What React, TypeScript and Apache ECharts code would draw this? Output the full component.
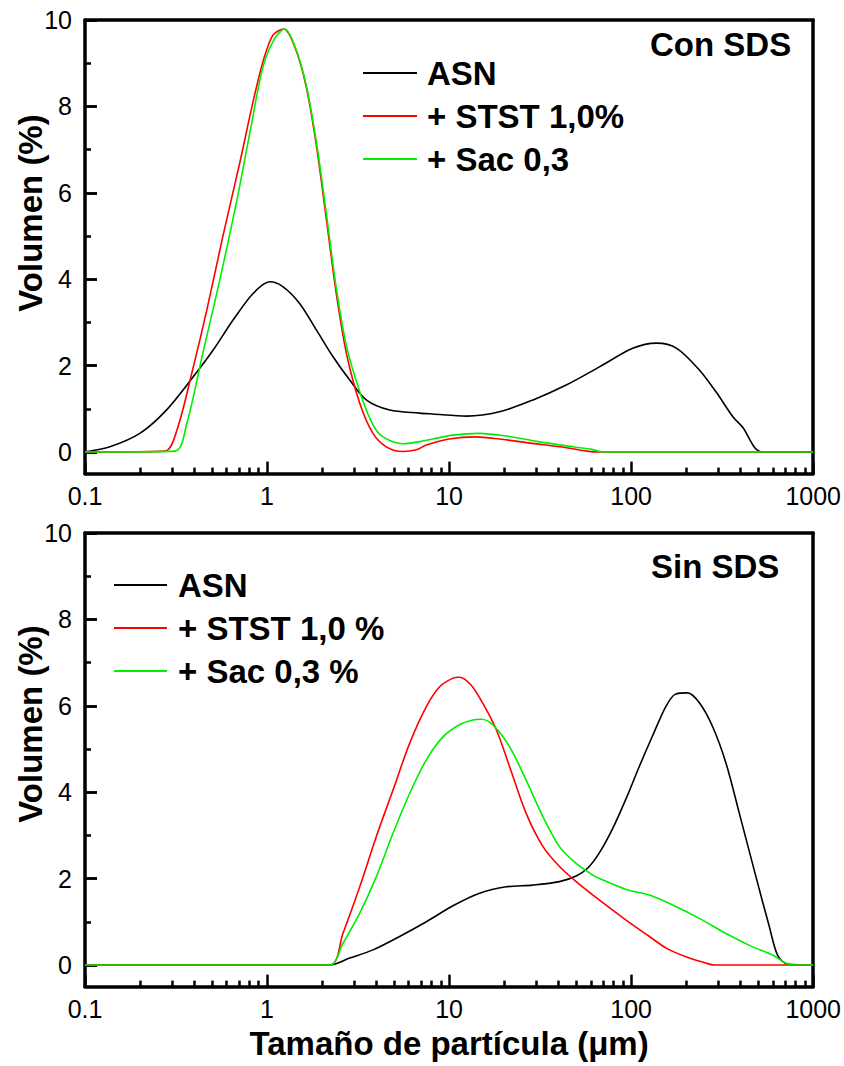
import React, { useEffect, useRef } from "react";
import * as echarts from "echarts";

// ---------- Data (x in µm, y in Volumen %) ----------
const X_TICKS = [0.1, 1, 10, 100, 1000];
const Y_TICKS = [0, 2, 4, 6, 8, 10];
const Y_MINOR = [1, 3, 5, 7, 9];

const NAMES_CON = ["ASN", "+ STST 1,0%", "+ Sac 0,3"];
const NAMES_SIN = ["ASN", "+ STST 1,0 %", "+ Sac 0,3 %"];
const PANEL_LABELS = ["Con SDS", "Sin SDS"];
const X_NAME = "Tamaño de partícula (μm)";
const Y_NAME = "Volumen (%)";

// Con SDS
const conASN: number[][] = [
  [0.1, 0], [0.137, 0.12], [0.2, 0.43], [0.28, 0.97], [0.393, 1.74], [0.506, 2.36], [0.652, 3.06],
  [0.838, 3.67], [1.035, 3.94], [1.22, 3.83], [1.51, 3.44], [1.87, 2.82], [2.3, 2.21], [2.84, 1.67],
  [3.52, 1.2], [4.72, 0.97], [6.89, 0.9], [8.1, 0.88], [12.5, 0.83], [18.9, 0.93], [28.7, 1.2],
  [44, 1.55], [67, 1.97], [102, 2.4], [138, 2.52], [178, 2.4], [237, 1.9], [295, 1.37], [363, 0.81],
  [412, 0.56], [479, 0.09], [531, 0], [1000, 0],
];
const conSTST: number[][] = [
  [0.1, 0], [0.275, 0.02], [0.32, 0.51], [0.39, 1.9], [0.467, 3.29], [0.571, 4.98], [0.708, 6.69],
  [0.835, 8.08], [0.949, 9.03], [1.077, 9.65], [1.236, 9.79], [1.42, 9.38], [1.64, 8.46], [1.87, 7.07],
  [2.12, 5.37], [2.4, 3.67], [2.73, 2.28], [3.23, 1.13], [3.82, 0.43], [4.52, 0.12], [5.58, 0.01],
  [6.61, 0.05], [7.5, 0.16], [10, 0.3], [14, 0.35], [18.9, 0.3], [28.7, 0.2], [44, 0.1], [57, 0.02],
  [67, 0], [1000, 0],
];
const conSac: number[][] = [
  [0.1, 0], [0.312, 0.02], [0.363, 0.67], [0.444, 2.29], [0.55, 3.98], [0.683, 5.83], [0.804, 7.38],
  [0.949, 8.91], [1.104, 9.58], [1.25, 9.79], [1.42, 9.4], [1.64, 8.5], [1.87, 7.15], [2.12, 5.5],
  [2.4, 3.8], [2.73, 2.45], [3.3, 1.28], [3.82, 0.63], [4.34, 0.35], [5.58, 0.19], [6.89, 0.24],
  [8.1, 0.3], [10.5, 0.39], [14.7, 0.43], [20.6, 0.37], [31, 0.24], [48, 0.12], [61, 0.06], [69, 0],
  [1000, 0],
];

// Sin SDS
const sinASN: number[][] = [
  [0.1, 0], [2.21, 0], [2.84, 0.16], [3.82, 0.35], [5.35, 0.66], [7.5, 1.0], [10.5, 1.37], [14.7, 1.66],
  [20.6, 1.81], [28.8, 1.85], [40.4, 1.93], [49.9, 2.06], [58, 2.25], [67, 2.6], [79, 3.15], [93.8, 3.85],
  [111, 4.6], [131, 5.3], [155, 5.98], [175, 6.27], [204, 6.3], [237, 6.07], [280, 5.52], [332, 4.67],
  [393, 3.51], [485, 2.04], [574, 0.89], [637, 0.23], [723, 0.02], [1000, 0],
];
const sinSTST: number[][] = [
  [0.1, 0], [2.21, 0], [2.61, 0.73], [3.23, 1.81], [3.98, 2.97], [4.92, 4.05], [6.07, 5.13], [7.5, 5.98],
  [8.87, 6.44], [10.5, 6.64], [11.4, 6.66], [13.2, 6.48], [15.3, 6.06], [18.2, 5.44], [21.5, 4.59],
  [26.5, 3.51], [32.8, 2.74], [40.4, 2.28], [49.9, 1.93], [67, 1.5], [93.8, 1.04], [126, 0.66],
  [156, 0.39], [200, 0.19], [269, 0.02], [290, 0], [1000, 0],
];
const sinSac: number[][] = [
  [0.1, 0], [2.21, 0], [2.61, 0.5], [3.23, 1.2], [3.98, 2.04], [4.92, 3.05], [6.07, 3.97], [7.5, 4.75],
  [9.25, 5.28], [11.4, 5.56], [13.5, 5.67], [15.0, 5.69], [17.4, 5.56], [21.5, 5.05], [26.5, 4.28],
  [32.8, 3.43], [40.4, 2.74], [49.9, 2.35], [61.6, 2.08], [67, 2.0], [93.8, 1.75], [126, 1.62],
  [169, 1.39], [237, 1.08], [332, 0.73], [465, 0.42], [598, 0.23], [708, 0.04], [771, 0], [1000, 0],
];

const COLORS = ["#000000", "#ff0000", "#00ee00"];
const FONT = "'Liberation Sans', Arial, Helvetica, sans-serif";

export default function App() {
  const ref = useRef<HTMLDivElement>(null);

  useEffect(() => {
    if (!ref.current) return;
    const chart = echarts.init(ref.current, undefined, { renderer: "svg" });

    const grids = [
      { left: 85, top: 20, width: 729, height: 453.6 },
      { left: 85, top: 533, width: 729, height: 453.6 },
    ];
    const Y_PER_GRID = 5;

    const tl = () => ({ color: "#000", width: 2.5 });
    const fl = () => ({ color: "#000", width: 3.5 });
    const xAxes: any[] = [];
    const yAxes: any[] = [];
    grids.forEach((_, gi) => {
      const auxIndex = gi * Y_PER_GRID + 4;
      // bottom axis: frame line, major + minor ticks, labels (placed on the zero of the auxiliary y axis = grid bottom)
      xAxes.push({
        type: "log",
        logBase: 10,
        gridIndex: gi,
        min: 0.1,
        max: 1000,
        position: "bottom",
        axisLine: { show: true, onZero: true, onZeroAxisIndex: auxIndex, lineStyle: fl() },
        splitLine: { show: false },
        axisTick: { show: true, inside: true, length: 12, lineStyle: tl() },
        minorTick: { show: true, splitNumber: 9, length: 6, lineStyle: tl() },
        minorSplitLine: { show: false },
        axisLabel: {
          show: true,
          margin: 10,
          fontSize: 25,
          color: "#000",
          fontFamily: FONT,
          formatter: (v: number) => String(v),
        },
        name: gi === 1 ? X_NAME : "",
        nameLocation: "middle",
        nameGap: 40,
        nameTextStyle: { fontSize: 33, fontWeight: "bold", color: "#000", fontFamily: FONT },
      });
      // top frame line
      xAxes.push({
        type: "log",
        logBase: 10,
        gridIndex: gi,
        min: 0.1,
        max: 1000,
        position: "top",
        axisLine: { show: true, onZero: false, lineStyle: fl() },
        splitLine: { show: false },
        axisTick: { show: false },
        axisLabel: { show: false },
      });
      // left: frame line + labels (+ major ticks)
      yAxes.push({
        type: "value",
        gridIndex: gi,
        min: -0.5,
        max: 10,
        position: "left",
        axisLine: { show: true, onZero: false, lineStyle: fl() },
        splitLine: { show: false },
        axisTick: { show: true, inside: true, length: 12, customValues: Y_TICKS, lineStyle: tl() },
        axisLabel: { show: true, customValues: Y_TICKS, margin: 13, fontSize: 25, color: "#000", fontFamily: FONT },
      });
      // left: major ticks only
      yAxes.push({
        type: "value",
        gridIndex: gi,
        min: -0.5,
        max: 10,
        position: "left",
        axisLine: { show: false, onZero: false },
        splitLine: { show: false },
        axisTick: { show: true, inside: true, length: 12, customValues: Y_TICKS, lineStyle: tl() },
        axisLabel: { show: false },
      });
      // left: minor ticks only
      yAxes.push({
        type: "value",
        gridIndex: gi,
        min: -0.5,
        max: 10,
        position: "left",
        axisLine: { show: false, onZero: false },
        splitLine: { show: false },
        axisTick: { show: true, inside: true, length: 6, customValues: Y_MINOR, lineStyle: tl() },
        axisLabel: { show: false },
      });
      // right frame line
      yAxes.push({
        type: "value",
        gridIndex: gi,
        min: -0.5,
        max: 10,
        position: "right",
        axisLine: { show: true, onZero: false, lineStyle: fl() },
        splitLine: { show: false },
        axisTick: { show: false },
        axisLabel: { show: false },
      });
      // auxiliary (hidden) axis whose zero sits on the grid bottom
      yAxes.push({
        type: "value",
        gridIndex: gi,
        min: 0,
        max: 10.5,
        position: "left",
        show: false,
        axisLine: { show: false, onZero: false },
        axisTick: { show: false },
        axisLabel: { show: false },
        splitLine: { show: false },
      });
    });

    const mk = (name: string, data: number[][], color: string, gi: number) => ({
      type: "line",
      name,
      data,
      xAxisIndex: gi * 2,
      yAxisIndex: gi * Y_PER_GRID,
      symbol: "none",
      smooth: 0.3,
      lineStyle: { color, width: 1.6 },
      itemStyle: { color },
    });

    const series = [
      mk(NAMES_CON[0], conASN, COLORS[0], 0),
      mk(NAMES_CON[1], conSTST, COLORS[1], 0),
      mk(NAMES_CON[2], conSac, COLORS[2], 0),
      mk(NAMES_SIN[0], sinASN, COLORS[0], 1),
      mk(NAMES_SIN[1], sinSTST, COLORS[1], 1),
      mk(NAMES_SIN[2], sinSac, COLORS[2], 1),
    ];

    const legendText = { fontSize: 33, fontWeight: "bold", color: "#000", fontFamily: FONT, lineHeight: 36 };
    const legendBase = {
      orient: "vertical",
      padding: 0,
      itemWidth: 54,
      itemHeight: 14,
      itemGap: 7,
      selectedMode: false,
      itemStyle: { opacity: 0 },
    };

    chart.setOption({
      animation: false,
      grid: grids.map((g) => ({ ...g, show: false })),
      xAxis: xAxes,
      yAxis: yAxes,
      title: [
        { text: PANEL_LABELS[0], left: 650, top: 28, padding: 0, textStyle: { fontSize: 33, fontWeight: "bold", color: "#000", fontFamily: FONT } },
        { text: PANEL_LABELS[1], left: 651, top: 550, padding: 0, textStyle: { fontSize: 33, fontWeight: "bold", color: "#000", fontFamily: FONT } },
      ],
      legend: [
        { ...legendBase, data: NAMES_CON, left: 362, top: 55, textStyle: { ...legendText, padding: [0, 0, 0, 5] } },
        { ...legendBase, data: NAMES_SIN, left: 113, top: 567, itemWidth: 53, textStyle: { ...legendText, padding: [0, 0, 0, 6] } },
      ],
      graphic: [
        {
          type: "text",
          x: 30,
          y: 213,
          rotation: Math.PI / 2,
          style: { text: Y_NAME, fontSize: 33, fontWeight: "bold", fill: "#000", fontFamily: FONT, align: "center", verticalAlign: "middle" },
        },
        {
          type: "text",
          x: 30,
          y: 724,
          rotation: Math.PI / 2,
          style: { text: Y_NAME, fontSize: 33, fontWeight: "bold", fill: "#000", fontFamily: FONT, align: "center", verticalAlign: "middle" },
        },
      ],
      series,
    });

    return () => chart.dispose();
  }, []);

  return <div ref={ref} style={{ position: "absolute", left: 0, top: 0, width: 844, height: 1066, background: "#fff" }} />;
}
